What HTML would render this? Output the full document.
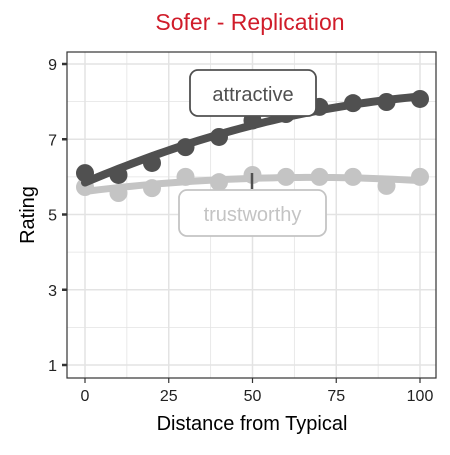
<!DOCTYPE html>
<html><head><meta charset="utf-8"><style>
body{margin:0;background:#fff;font-family:"Liberation Sans",sans-serif}
</style></head><body>
<svg id="c" width="450" height="450" xmlns="http://www.w3.org/2000/svg">
<rect width="450" height="450" fill="#fff"/>
<text x="250" y="30" text-anchor="middle" font-size="23" fill="#d01c2a">Sofer - Replication</text>
<g id="grid"></g>
<g id="marks"></g>
<rect x="67" y="52" width="369" height="326" fill="none" stroke="#333" stroke-width="1.2"/>
<g id="axes"></g>
<text x="252" y="430" text-anchor="middle" font-size="20">Distance from Typical</text>
<text transform="translate(34,215) rotate(-90)" text-anchor="middle" font-size="20">Rating</text>
</svg>
<script>
const xs=[0,10,20,30,40,50,60,70,80,90,100];
const attractive=[6.1,6.05,6.37,6.79,7.06,7.5,7.67,7.86,7.96,7.99,8.07];
const trustworthy=[5.73,5.57,5.7,6.0,5.86,6.05,6.0,6.0,6.0,5.76,6.0];
const xTicks=[0,25,50,75,100];
const yTicks=[1,3,5,7,9];
const NS="http://www.w3.org/2000/svg";
const X=v=>85+v*3.35, Y=v=>365-(v-1)*37.625;
function mk(t,a,p){const e=document.createElementNS(NS,t);for(const k in a)e.setAttribute(k,a[k]);p.appendChild(e);return e;}
const grid=document.getElementById('grid'),axes=document.getElementById('axes'),marks=document.getElementById('marks');
mk('rect',{x:67,y:52,width:369,height:326,fill:'#fff'},grid);
for(let v=0;v<=100;v+=12.5){const g=mk('line',{x1:X(v),x2:X(v),y1:52,y2:378,stroke:'#e3e3e3','stroke-width':v%25===0?1.5:0.8},grid);
}
for(let v=0;v<=10;v+=1){if(Y(v)<52||Y(v)>378)continue;const g=mk('line',{x1:67,x2:436,y1:Y(v),y2:Y(v),stroke:'#e3e3e3','stroke-width':v%2===1?1.5:0.8},grid);
}
xTicks.forEach(v=>{mk('line',{x1:X(v),x2:X(v),y1:378,y2:383,stroke:'#333','stroke-width':1.2},axes);
const t=mk('text',{x:X(v),y:401,'text-anchor':'middle','font-size':16,fill:'#222'},axes);t.textContent=v;
});
yTicks.forEach(v=>{mk('line',{x1:62,x2:67,y1:Y(v),y2:Y(v),stroke:'#333','stroke-width':2.5},axes);
const t=mk('text',{x:57,y:Y(v)+6,'text-anchor':'end','font-size':16,fill:'#222'},axes);t.textContent=v;
});
function fit(ys){let S=[0,0,0,0,0],T=[0,0,0];xs.forEach((x,i)=>{const u=x/100;for(let k=0;k<5;k++)S[k]+=u**k;for(let k=0;k<3;k++)T[k]+=ys[i]*u**k;});
const A=[[S[0],S[1],S[2],T[0]],[S[1],S[2],S[3],T[1]],[S[2],S[3],S[4],T[2]]];
for(let i=0;i<3;i++)for(let j=i+1;j<3;j++){const f=A[j][i]/A[i][i];for(let k=i;k<4;k++)A[j][k]-=f*A[i][k];}
const c=[0,0,0];for(let i=2;i>=0;i--){let s=A[i][3];for(let k=i+1;k<3;k++)s-=A[i][k]*c[k];c[i]=s/A[i][i];}return x=>c[0]+c[1]*x/100+c[2]*(x/100)**2;}
function series(ys,col,name,lw){const f=fit(ys);let d='';for(let x=0;x<=100;x+=2)d+=(x?'L':'M')+X(x)+','+Y(f(x));
const p=mk('path',{d,fill:'none',stroke:col,'stroke-width':lw,'stroke-linecap':'round'},marks);

xs.forEach((x,i)=>{const c=mk('circle',{cx:X(x),cy:Y(ys[i]),r:9,fill:col},marks);
});}
series(trustworthy,'#c4c4c4','trustworthy',7);
series(attractive,'#505050','attractive',8);
mk('line',{x1:252,x2:252,y1:173,y2:189,stroke:'#505050','stroke-width':2.5},marks);
const lb=[['attractive',190,70,126,'#505050'],['trustworthy',179,190,147,'#c4c4c4']];
lb.forEach(([t,x,y,w,col])=>{const g=mk('g',{},marks);
mk('rect',{x,y,width:w,height:46,rx:8,fill:'#fff',stroke:col,'stroke-width':1.8},g);
const tx=mk('text',{x:x+w/2,y:y+31,'text-anchor':'middle','font-size':20,fill:col},g);tx.textContent=t;});
</script>
</body></html>
